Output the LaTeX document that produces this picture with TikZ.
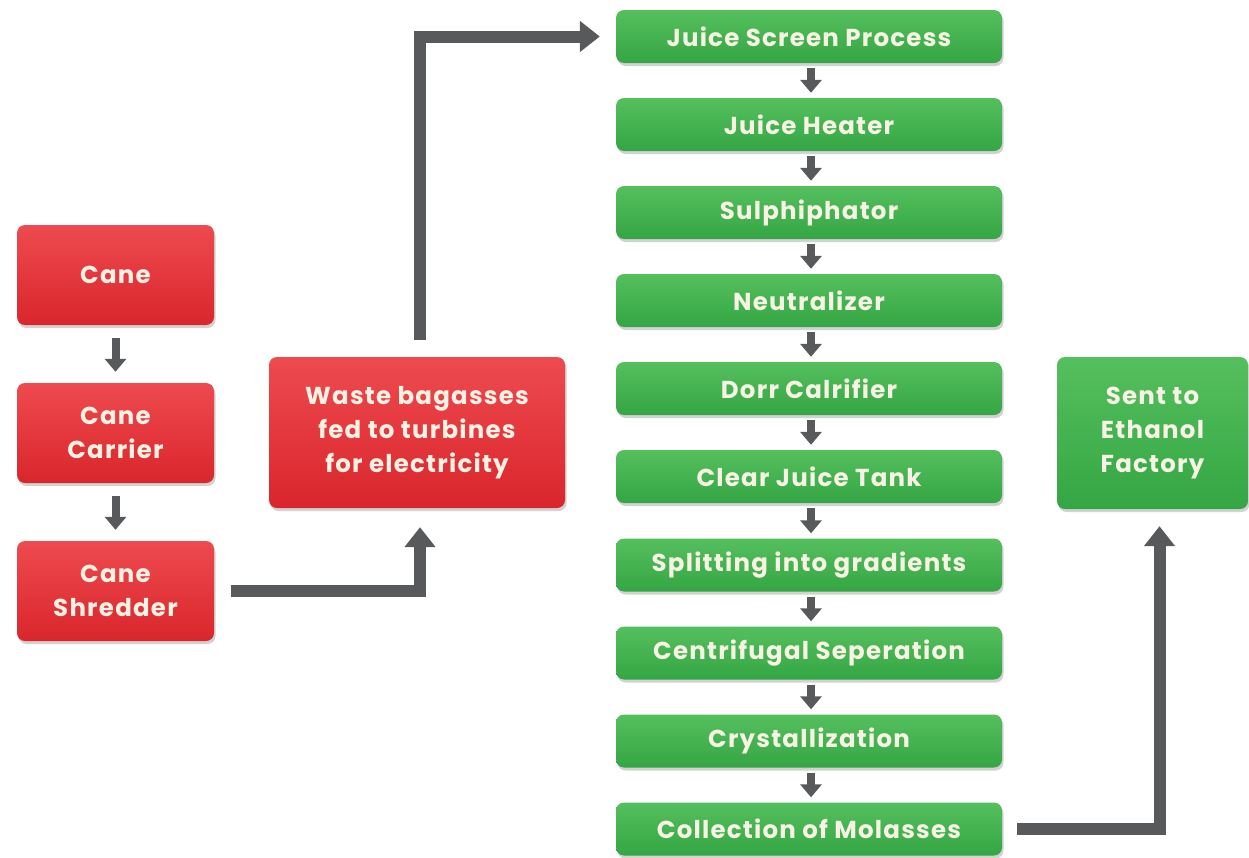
\documentclass[tikz,border=0pt]{standalone}
\usepackage{fontspec}
\setmainfont{Poppins}[LetterSpace=5]
\usetikzlibrary{arrows.meta,shadows}
\definecolor{arrgray}{HTML}{58595B}
\definecolor{redtop}{HTML}{EE4A4F}
\definecolor{redbot}{HTML}{D9262C}
\definecolor{grntop}{HTML}{55BF5E}
\definecolor{grnbot}{HTML}{34A643}
\definecolor{txtcol}{HTML}{F7F2E4}
\tikzset{
  box/.style={rounded corners=8pt, draw=none, inner sep=0pt, align=center,
    text=txtcol, font=\bfseries\fontsize{24.5}{34}\selectfont,
    drop shadow={opacity=0.35, shadow xshift=1.5pt, shadow yshift=-3pt}},
  redbox/.style={box, top color=redtop, bottom color=redbot},
  grnbox/.style={box, top color=grntop, bottom color=grnbot,
    minimum width=386pt, minimum height=53pt},
  smallred/.style={redbox, minimum width=197pt, minimum height=100pt},
  bigarr/.style={draw=arrgray, line width=12pt, -{Triangle[width=30pt,length=20pt]}},
  smallarr/.style={draw=arrgray, line width=8pt, -{Triangle[width=21pt,length=13pt]}}
}
\begin{document}
\begin{tikzpicture}[x=1pt,y=-1pt]
\fill[white] (0,0) rectangle (1249,857);
\useasboundingbox (0,0) rectangle (1249,857);
% red column
\node[smallred] (cane) at (115.5,275) {Cane};
\node[smallred] (carrier) at (115.5,433) {Cane\\Carrier};
\node[smallred] (shred) at (115.5,591) {Cane\\Shredder};
\node[redbox, minimum width=296pt, minimum height=151pt] (waste) at (417,432.5) {Waste bagasses\\fed to turbines\\for electricity};
% green column
\node[grnbox] (j1) at (809,36.5) {Juice Screen Process};
\node[grnbox] (j2) at (809,124.5) {Juice Heater};
\node[grnbox] (j3) at (809,212.5) {Sulphiphator};
\node[grnbox] (j4) at (809,300.5) {Neutralizer};
\node[grnbox] (j5) at (809,388.5) {Dorr Calrifier};
\node[grnbox] (j6) at (809,476.5) {Clear Juice Tank};
\node[grnbox] (j7) at (809,565) {Splitting into gradients};
\node[grnbox] (j8) at (809,653) {Centrifugal Seperation};
\node[grnbox] (j9) at (809,741) {Crystallization};
\node[grnbox] (j10) at (809,829) {Collection of Molasses};
\node[box, top color=grntop, bottom color=grnbot, minimum width=191pt, minimum height=152pt] (eth) at (1152.5,433) {Sent to\\Ethanol\\Factory};
% small arrows
\draw[smallarr] ([yshift=-13pt]cane.south) -- ([yshift=11pt]carrier.north);
\draw[smallarr] ([yshift=-13pt]carrier.south) -- ([yshift=11pt]shred.north);
\foreach \a/\b in {j1/j2,j2/j3,j3/j4,j4/j5,j5/j6,j6/j7,j7/j8,j8/j9,j9/j10}
  \draw[smallarr] ([xshift=2pt,yshift=-5pt]\a.south) -- ([xshift=2pt,yshift=5pt]\b.north);
% big connectors
\draw[bigarr] ([xshift=17pt]shred.east) -| ([xshift=3pt,yshift=-19pt]waste.south);
\draw[bigarr] ([xshift=3pt,yshift=17pt]waste.north) |- ([xshift=-16pt]j1.west);
\draw[bigarr] ([xshift=15pt]j10.east) -| ([xshift=7pt,yshift=-17pt]eth.south);
\end{tikzpicture}
\end{document}
